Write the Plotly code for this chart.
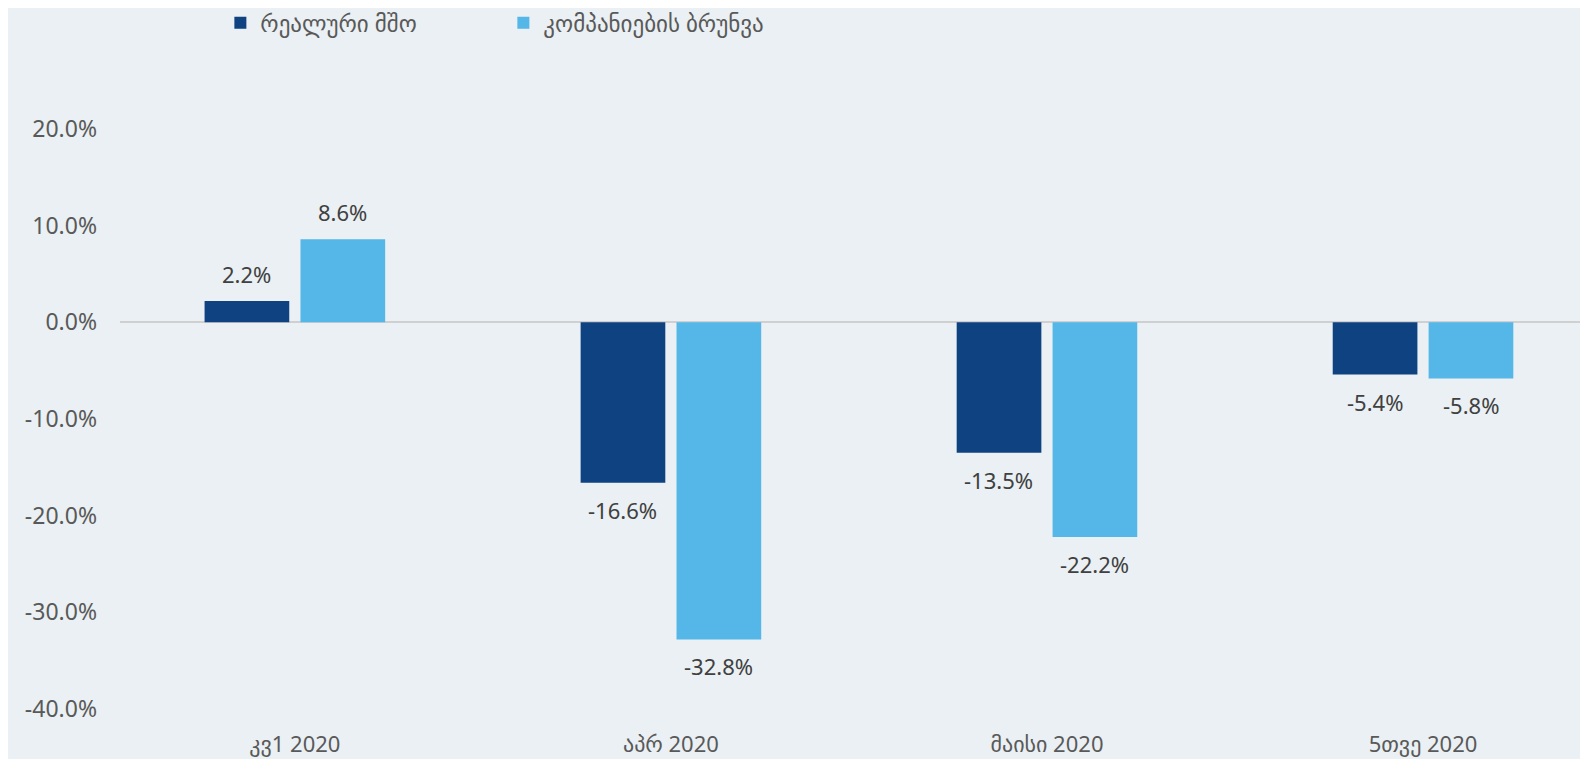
import plotly.graph_objects as go

categories = ["კვ1 2020", "აპრ 2020", "მაისი 2020", "5თვე 2020"]
series_names = ["რეალური მშო", "კომპანიების ბრუნვა"]
real_gdp = [2.2, -16.6, -13.5, -5.4]
turnover = [8.6, -32.8, -22.2, -5.8]
tick_vals = [20, 10, 0, -10, -20, -30, -40]
tick_text = ["20.0%", "10.0%", "0.0%", "-10.0%", "-20.0%", "-30.0%", "-40.0%"]

colors = ["#0E4280", "#55B6E8"]
FONT = "Noto Sans, DejaVu Sans, sans-serif"

fig = go.Figure()
offsets = [-48, 48]
annotations = []
for name, vals, col, dx in zip(series_names, [real_gdp, turnover], colors, offsets):
    fig.add_trace(go.Bar(
        x=categories, y=vals, name=name, marker=dict(color=col, line=dict(width=0)),
    ))
    for c, v in zip(categories, vals):
        annotations.append(dict(
            x=c, y=v, xref="x", yref="y", text=f"{v:.1f}%", showarrow=False,
            xshift=dx, yshift=27 if v >= 0 else -27, yanchor="middle", xanchor="center",
            font=dict(size=22, color="#404040", family=FONT),
        ))

fig.update_layout(
    width=1588, height=759,
    paper_bgcolor="#EAF0F3", plot_bgcolor="#EAF0F3",
    margin=dict(l=112, r=0, t=121, b=58, autoexpand=False),
    barmode="group", bargap=0.49, bargroupgap=0.117,
    font=dict(family=FONT, color="#595959", size=22),
    legend=dict(orientation="h", x=0.068, xanchor="left", y=1.183, yanchor="middle",
                yref="paper", font=dict(size=23, color="#595959"),
                entrywidth=238, entrywidthmode="pixels", itemsizing="constant",
                bgcolor="rgba(0,0,0,0)"),
    showlegend=True,
    annotations=annotations,
)
fig.update_xaxes(range=[-0.465, 3.46], showgrid=False, showline=False, ticks="",
                 tickfont=dict(size=22, color="#595959"), ticklabelstandoff=20, automargin=False)
fig.update_yaxes(range=[-40, 20], tickvals=tick_vals, ticktext=tick_text, showgrid=False,
                 zeroline=True, zerolinecolor="#D0D0D0", zerolinewidth=2, automargin=False,
                 showline=False, ticks="", tickfont=dict(size=23, color="#595959"), ticklabelstandoff=22)

fig.write_html("out.html")
